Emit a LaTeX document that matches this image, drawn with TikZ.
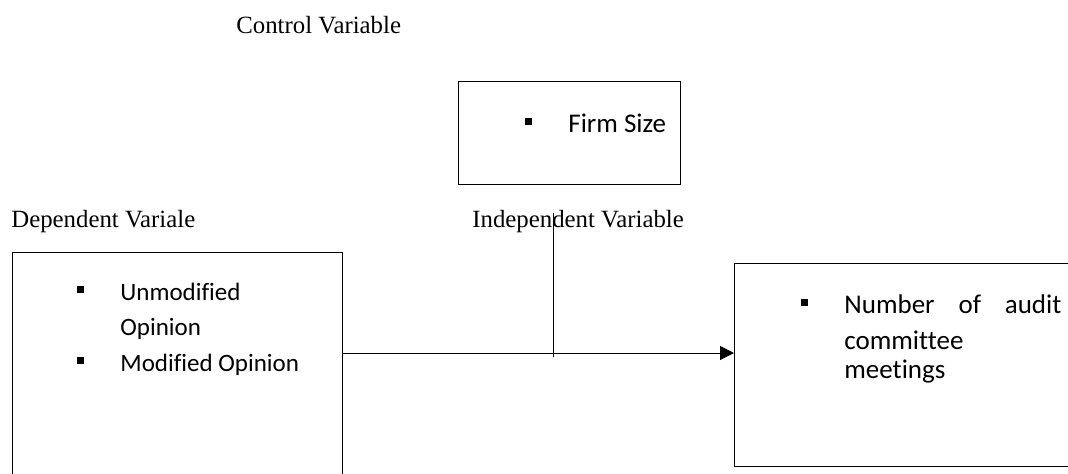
\documentclass[tikz,border=0pt]{standalone}
\usepackage{fontspec}
\setmainfont{Liberation Serif}
\newfontfamily\calibrifont[Ligatures=NoCommon]{Carlito}
\usetikzlibrary{arrows.meta,calc}

\newcommand{\quadrato}{\makebox[21.5pt][l]{\raisebox{3.5pt}{\rule{3.5pt}{3.5pt}}}}
\newcommand{\rientro}{\hspace*{21.5pt}}

\tikzset{
  casella/.style={draw, line width=0.7pt, inner sep=0pt, anchor=north west},
  etichetta/.style={inner sep=0pt, anchor=base west, font=\fontsize{12.4}{14}\selectfont},
  elenco/.style={inner sep=0pt, anchor=base west, align=left,
                 font=\calibrifont\fontsize{12.5}{17.75}\selectfont},
  elencogrande/.style={elenco, font=\calibrifont\fontsize{13.5}{18}\selectfont},
}

\begin{document}
\begin{tikzpicture}[x=0.5pt, y=-0.5pt]
    \useasboundingbox (0,0) rectangle (1068,473);
    \clip (0,0) rectangle (1068,473);

    % Etichette delle variabili
    \node[etichetta] (lcontrollo) at (236,33) {Control Variable};
    \node[etichetta] (ldip) at (11,227) {Dependent Variale};
    \node[etichetta] (lindip) at (472,227) {Independent Variable};

    % Caselle
    \node[casella, minimum width=111pt, minimum height=51.5pt] (controllo) at (458,81) {};
    \node[casella, minimum width=165pt, minimum height=125pt] (dip) at (12,252) {};
    \node[casella, minimum width=180pt, minimum height=101.5pt] (indip) at (734,263) {};

    % Contenuto delle caselle (ancorato all'ultima riga)
    \node[elencogrande] (firm) at (525,132) {\quadrato Firm Size};
    \node[elenco] (opinioni) at (77,371) {\quadrato Unmodified\\ \rientro Opinion\\ \quadrato Modified Opinion};
    \node[elencogrande] (riunioni) at (801,378) {\quadrato\makebox[108.5pt][s]{Number of audit}\\ \rientro committee\\[-3.5pt] \rientro meetings};

    % Freccia e linea del moderatore
    \coordinate (inizio) at ($(dip.north east)+(0,101)$);
    \draw[line width=0.5pt, -{Triangle[length=7pt,width=7pt]}] (inizio) -- (inizio -| indip.west);
    \coordinate (mtop) at (553,213);
    \coordinate (mbot) at (553,357);
    \draw[line width=0.5pt] (mtop) -- (mbot);
\end{tikzpicture}
\end{document}
